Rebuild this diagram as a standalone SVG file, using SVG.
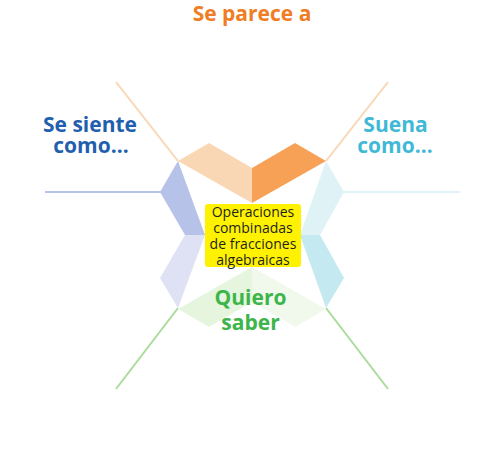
<svg xmlns="http://www.w3.org/2000/svg" width="488" height="466" viewBox="0 0 488 466">
<style>
.ln{fill:none;stroke-width:2}
.t{font-family:"Open Sans","Liberation Sans",sans-serif;font-weight:bold;font-size:21px;text-anchor:middle}
.c{font-family:"Open Sans","Liberation Sans",sans-serif;font-size:14px;fill:#231f20;text-anchor:middle}
</style>
<rect width="488" height="466" fill="#ffffff"/>
<g id="connectors">
<line class="ln" x1="178" y1="161" x2="116" y2="82" stroke="#fad7b4"/>
<line class="ln" x1="326" y1="161" x2="388" y2="82" stroke="#fad7b4"/>
<line class="ln" x1="161" y1="192" x2="45" y2="192" stroke="#b7c2e8"/>
<line class="ln" x1="343" y1="192" x2="460" y2="192" stroke="#dff3f8"/>
<line class="ln" x1="178" y1="308" x2="116" y2="389" stroke="#a9dc9a"/>
<line class="ln" x1="326" y1="308" x2="388" y2="389" stroke="#a9dc9a"/>
</g>
<g id="top">
<polygon points="178,161 209,143 252,168 252,203" fill="#fad7b4"/>
<polygon points="252,168 295,143 326,161 252,203" fill="#f7a157"/>
<text class="t" x="252" y="21" fill="#f07d24">Se parece a</text>
</g>
<g id="left">
<polygon points="178,161 160,192 185,235 205,235" fill="#b7c2e8"/>
<polygon points="185,235 160,278 178,308 205,235" fill="#dfe2f4"/>
<text class="t" x="90" y="132" fill="#1f5fae">Se siente</text>
<text class="t" x="91" y="153" fill="#1f5fae">como...</text>
</g>
<g id="right">
<polygon points="326,161 344,192 320,235 300,235" fill="#dff3f7"/>
<polygon points="320,235 344,278 326,308 300,235" fill="#c4e9f0"/>
<text class="t" x="395.5" y="132" fill="#3fb9d5">Suena</text>
<text class="t" x="395" y="153" fill="#3fb9d5">como...</text>
</g>
<g id="bottom">
<polygon points="178,309 209,327 252,302 252,267" fill="#e6f5de"/>
<polygon points="252,302 295,327 326,309 252,267" fill="#f1f9ec"/>
<text class="t" x="250.5" y="305" fill="#3db54a">Quiero</text>
<text class="t" x="250.5" y="330" fill="#3db54a">saber</text>
</g>
<g id="center">
<rect x="205" y="204" width="96" height="63" rx="3" fill="#fff200"/>
<text class="c" x="253" y="217">Operaciones</text>
<text class="c" x="253" y="233">combinadas</text>
<text class="c" x="253" y="249">de fracciones</text>
<text class="c" x="253" y="265">algebraicas</text>
</g>
</svg>
